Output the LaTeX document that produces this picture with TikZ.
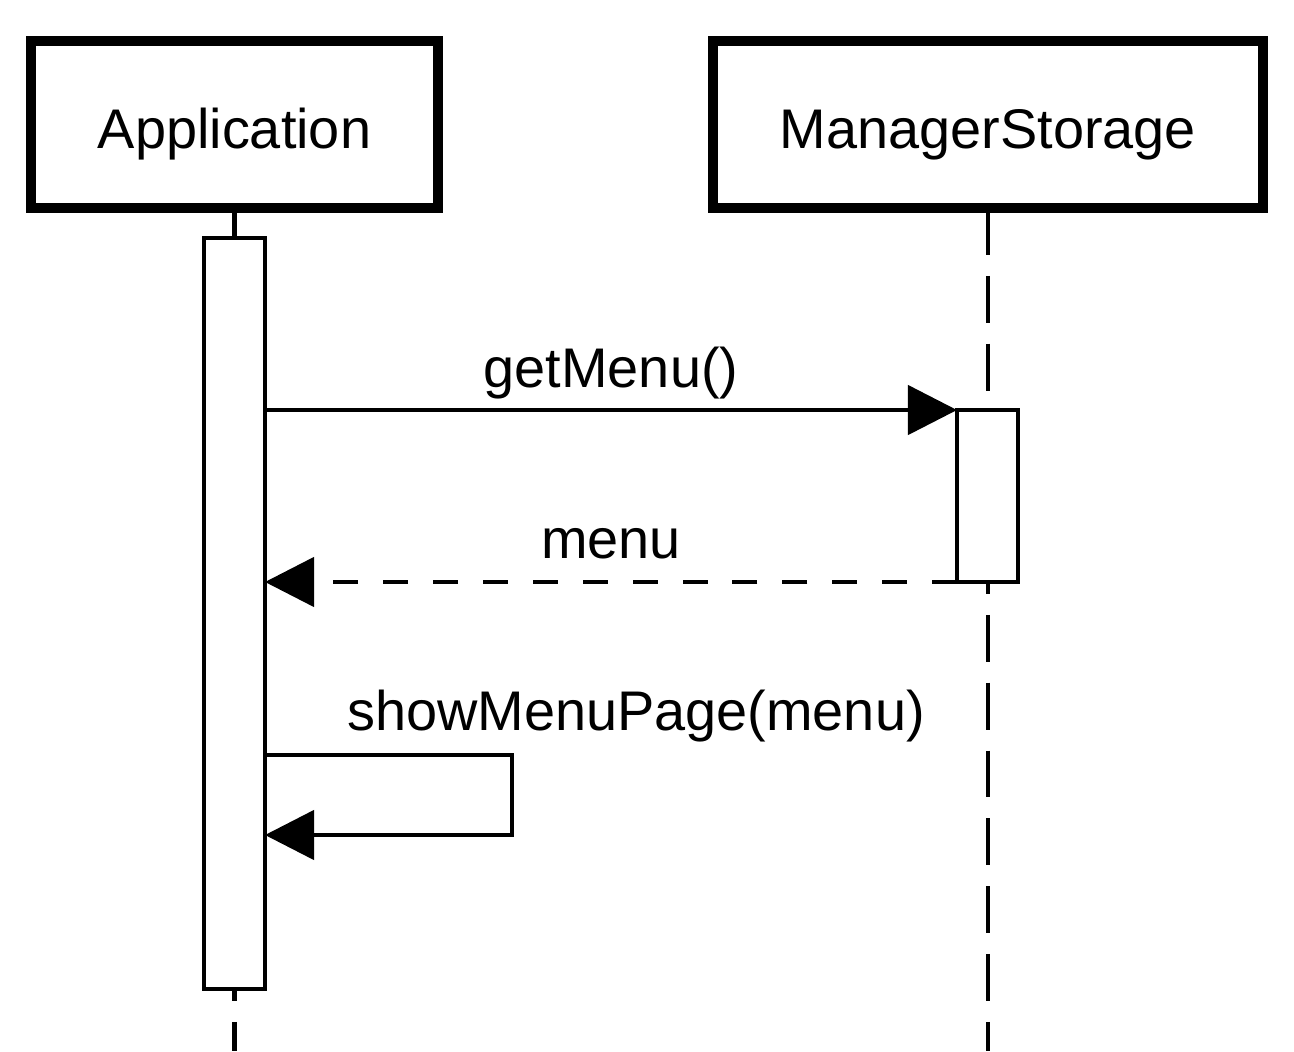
\documentclass[tikz,border=0pt]{standalone}
\usepackage{fontspec}
\setmainfont{Liberation Sans}
\usetikzlibrary{arrows.meta}
\begin{document}
\begin{tikzpicture}[x=0.02cm,y=-0.02cm,
  headbox/.style={draw=black, line width=5.3pt, fill=white, rectangle, inner sep=0pt, outer sep=0pt, minimum height=3.34cm},
  actbox/.style={draw=black, line width=2.56pt, fill=white, rectangle, inner sep=0pt, outer sep=0pt, minimum width=1.22cm},
  lifeline/.style={line width=2.56pt, dash pattern=on 26.7pt off 11.9pt},
  msg/.style={line width=2.56pt, line join=miter, -{Triangle[length=28pt, width=28pt]}},
  retmsg/.style={msg, dash pattern=on 14.2pt off 14.2pt},
  lbl/.style={font=\fontsize{31.8pt}{38pt}\selectfont, inner sep=0pt, anchor=base}]
\useasboundingbox (0,0) rectangle (1294,1051);

% lifelines
\coordinate (appbot) at (234.5,1051);
\coordinate (msbot) at (988,1051);
\node[headbox, minimum width=8.14cm] (app) at (234.5,124.5) {};
\node[headbox, minimum width=11cm] (ms) at (988,124.5) {};
\draw[lifeline] (app.south) -- (appbot);
\draw[lifeline] (ms.south) -- (msbot);
% redraw boxes over lifeline start
\node[headbox, minimum width=8.14cm] at (234.5,124.5) {};
\node[headbox, minimum width=11cm] at (988,124.5) {};
\node[lbl] (applbl) at (234.5,148) {Application};
\node[lbl] (mslbl) at (988,148) {ManagerStorage};

% activation boxes
\node[actbox, minimum height=15.02cm] (act1) at (234.5,613.5) {};
\node[actbox, minimum height=3.44cm] (act2) at (987.5,496) {};

% getMenu()
\draw[msg] (act1.east |- act2.north west) -- (act2.north west);
\node[lbl] (l1) at (611,387) {getMenu()};

% menu (return)
\draw[retmsg] (act2.south west) -- (act1.east |- act2.south west);
\node[lbl] (l2) at (611,558) {menu};

% self message
\coordinate (s1) at (512,755);
\coordinate (s2) at (512,835);
\draw[msg] (act1.east |- s1) -- (s1) -- (s2) -- (act1.east |- s2);
\node[lbl] (l3) at (636,730) {showMenuPage(menu)};
\end{tikzpicture}
\end{document}
